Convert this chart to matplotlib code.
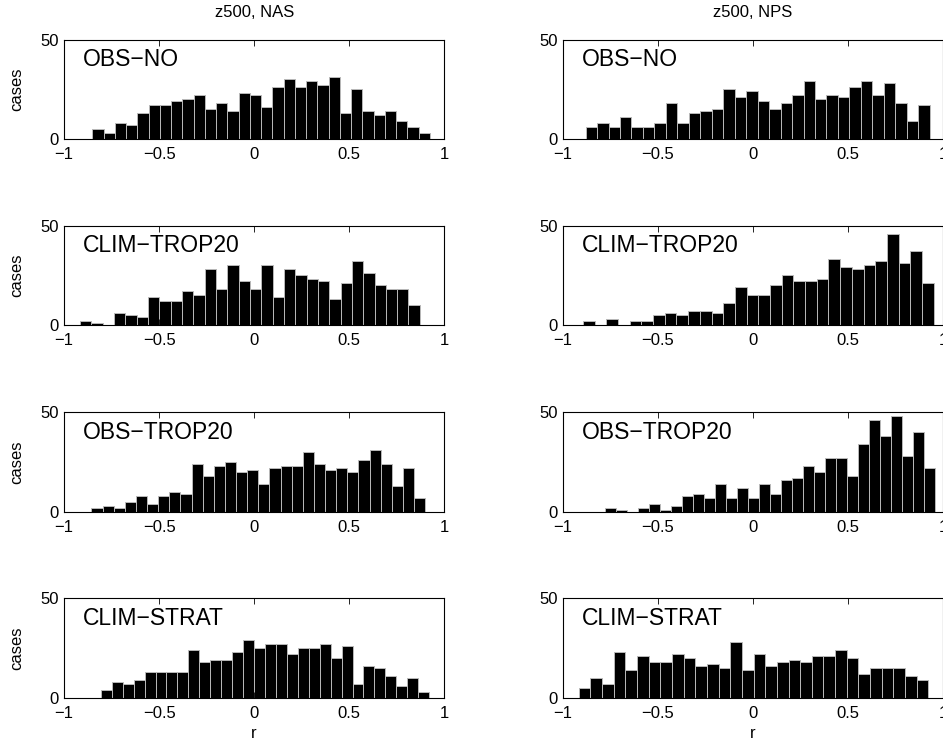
import matplotlib
matplotlib.use("Agg")
import matplotlib.pyplot as plt
import numpy as np

plt.rcParams['font.family'] = ['Liberation Sans', 'DejaVu Sans']

regions = ["z500, NAS", "z500, NPS"]
experiments = ["OBS\u2212NO", "CLIM\u2212TROP20", "OBS\u2212TROP20", "CLIM\u2212STRAT"]

# histogram range (first and last bin edge) for each panel, 30 bins each
nas_ranges = [(-0.851, 0.925), (-0.917, 0.872), (-0.856, 0.900), (-0.807, 0.921)]
nps_ranges = [(-0.881, 0.930), (-0.895, 0.951), (-0.780, 0.960), (-0.917, 0.923)]

nas_obs_no = [5, 3, 8, 7, 13, 17, 17, 19, 20, 22, 15, 18, 14, 23, 22,
              16, 26, 30, 26, 29, 27, 31, 13, 25, 14, 12, 14, 9, 6, 3]
nas_clim_trop20 = [2, 1, 0, 6, 5, 4, 14, 12, 12, 17, 15, 28, 18, 30, 22,
                   18, 30, 14, 28, 25, 23, 22, 13, 21, 32, 26, 20, 18, 18, 10]
nas_obs_trop20 = [2, 3, 2, 5, 8, 4, 8, 10, 9, 24, 18, 23, 25, 20, 21,
                  14, 22, 23, 23, 30, 24, 21, 22, 20, 26, 31, 24, 13, 22, 7]
nas_clim_strat = [4, 8, 7, 9, 13, 13, 13, 13, 24, 18, 19, 19, 23, 29, 25,
                  27, 27, 22, 25, 25, 27, 20, 26, 7, 16, 15, 11, 6, 10, 3]

nps_obs_no = [6, 8, 6, 11, 6, 6, 8, 18, 8, 13, 14, 15, 25, 21, 24,
              19, 15, 18, 22, 29, 20, 22, 21, 26, 29, 22, 28, 18, 9, 17]
nps_clim_trop20 = [2, 0, 3, 0, 2, 2, 5, 6, 5, 7, 7, 6, 11, 19, 15,
                   15, 20, 25, 22, 22, 23, 33, 29, 28, 30, 32, 46, 31, 37, 21]
nps_obs_trop20 = [2, 1, 0, 2, 4, 1, 3, 8, 9, 7, 14, 7, 12, 7, 14,
                  9, 16, 17, 23, 20, 27, 27, 18, 34, 46, 38, 48, 28, 40, 22]
nps_clim_strat = [5, 10, 7, 23, 14, 21, 18, 18, 22, 20, 16, 17, 15, 28, 14,
                  22, 16, 18, 19, 18, 21, 21, 24, 20, 12, 15, 15, 15, 11, 9]

columns = [
    (nas_ranges, [nas_obs_no, nas_clim_trop20, nas_obs_trop20, nas_clim_strat]),
    (nps_ranges, [nps_obs_no, nps_clim_trop20, nps_obs_trop20, nps_clim_strat]),
]

fig = plt.figure(figsize=(9.43, 7.48), dpi=100)

lefts = [0.068, 0.597]
bottoms = [0.8142, 0.5655, 0.3160, 0.0672]
width = 0.403
height = 0.1328

for j, (ranges, series) in enumerate(columns):
    for i, counts in enumerate(series):
        ax = fig.add_axes([lefts[j], bottoms[i], width, height])
        lo, hi = ranges[i]
        edges = np.linspace(lo, hi, len(counts) + 1)
        centers = 0.5 * (edges[:-1] + edges[1:])
        ax.bar(centers, counts, width=edges[1] - edges[0], color='k',
               edgecolor='0.72', linewidth=0.7)
        ax.set_xlim(-1, 1)
        ax.set_ylim(0, 50)
        ax.set_xticks([-1, -0.5, 0, 0.5, 1])
        ax.set_xticklabels(['\u22121', '\u22120.5', '0', '0.5', '1'])
        ax.set_yticks([0, 50])
        ax.tick_params(direction='in', top=True, right=True, length=4,
                       width=0.6, labelsize=12)
        ax.tick_params(axis='x', pad=6)
        ax.tick_params(axis='y', pad=4)
        for sp in ax.spines.values():
            sp.set_linewidth(0.8)
        ax.text(0.05, 0.80, experiments[i], transform=ax.transAxes,
                fontsize=16.5, ha='left', va='center')
        if j == 0:
            ax.set_ylabel('cases', fontsize=12)
            ax.yaxis.set_label_coords(-0.105, 0.5)
        if i == 0:
            ax.set_title(regions[j], fontsize=12, pad=16)
        if i == 3:
            ax.set_xlabel('r', fontsize=12)
            ax.xaxis.set_label_coords(0.5, -0.28)

fig.savefig('out.png', dpi=100)
